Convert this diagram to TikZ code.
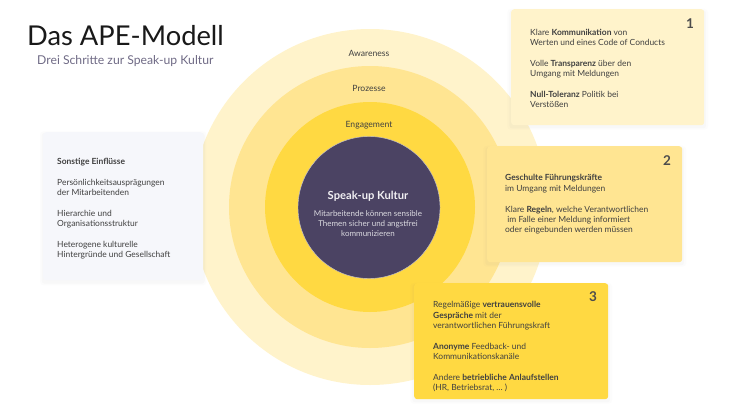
\documentclass[tikz,border=0pt]{standalone}
\usepackage{fontspec}
\setmainfont{Lato}
\usetikzlibrary{shadows}
\definecolor{ringa}{HTML}{FFF3CB}
\definecolor{ringb}{HTML}{FFE592}
\definecolor{ringc}{HTML}{FFD942}
\definecolor{kern}{HTML}{4B4363}
\definecolor{grau}{HTML}{F6F7FB}
\definecolor{schrift}{HTML}{404040}
\definecolor{untertitel}{HTML}{6F6A85}
\tikzset{
  ring/.style = {circle, inner sep=0pt, minimum size=#1},
  softshadow/.style = {
    drop shadow={shadow xshift=0pt, shadow yshift=-2pt, opacity=0.025, shadow scale=1.04},
    drop shadow={shadow xshift=0pt, shadow yshift=-2pt, opacity=0.035, shadow scale=1.02}},
  kasten/.style = {rounded corners=3pt, softshadow, inner sep=0pt, anchor=north west},
  liste/.style = {anchor=north west, inner sep=0pt, align=left, text=schrift,
    font=\fontsize{8.45}{10.35}\selectfont},
  ringtext/.style = {text=schrift, font=\fontsize{8.6}{10.35}\selectfont},
  nummer/.style = {text=black!70, font=\fontsize{13.5}{14}\selectfont\bfseries}
}
\begin{document}
\begin{tikzpicture}[x=1pt, y=-1pt]
\useasboundingbox (0,0) rectangle (738,415);
% Ringe
\node [ring=356pt, fill=ringa] (awareness) at (370,207) {};
\node [ring=282pt, fill=ringb] (prozesse) at (370,207) {};
\node [ring=210pt, fill=ringc] (engagement) at (370,207) {};
\node [ring=142pt, fill=kern, draw=white!70!kern, line width=0.4pt] (kultur) at (369,207.5) {};
\node [ringtext] (awarenesstext) at (369,53) {Awareness};
\node [ringtext] (prozessetext) at (369,88.5) {Prozesse};
\node [ringtext] (engagementtext) at (369,125) {Engagement};
\node [text=white!92!kern, font=\fontsize{11.2}{12}\selectfont\bfseries] (kulturtitel) at (368,196.5) {Speak-up Kultur};
\node [below=0pt, text=white!80!kern, align=center, inner sep=0pt, font=\fontsize{8}{10}\selectfont] (kulturtext) at (368,210) {Mitarbeitende können sensible\\Themen sicher und angstfrei\\kommunizieren};
% Titel
\node [anchor=west, inner sep=0pt, text=black!90, font=\fontsize{27.3}{30}\selectfont] (titel) at (27,36) {Das APE-Modell};
\node [anchor=west, inner sep=0pt, text=untertitel, font=\fontsize{12.2}{14}\selectfont] (untertitel) at (37,61) {Drei Schritte zur Speak-up Kultur};
% Kaesten
\node [kasten, fill=grau, minimum width=160pt, minimum height=148pt] (einfluss) at (43,132) {};
\node [kasten, fill=ringa, minimum width=193pt, minimum height=116pt] (schritta) at (511,9) {};
\node [kasten, fill=ringb, minimum width=195pt, minimum height=116pt] (schrittb) at (487,146) {};
\node [kasten, fill=ringc, minimum width=194pt, minimum height=116pt] (schrittc) at (414,283) {};
\node [liste] (einflusstext) at (57,158) {\textbf{Sonstige Einflüsse}\\[10.35pt]
  Persönlichkeitsausprägungen\\der Mitarbeitenden\\[10.35pt]
  Hierarchie und\\Organisationsstruktur\\[10.35pt]
  Heterogene kulturelle\\Hintergründe und Gesellschaft};
\node [liste] (schrittatext) at (530,29) {Klare \textbf{Kommunikation} von\\Werten und eines Code of Conducts\\[10.35pt]
  Volle \textbf{Transparenz} über den\\Umgang mit Meldungen\\[10.35pt]
  \textbf{Null-Toleranz} Politik bei\\Verstößen};
\node [liste] (schrittbtext) at (505,174.5) {\textbf{Geschulte Führungskräfte}\\im Umgang mit Meldungen\\[10.35pt]
  Klare \textbf{Regeln}, welche Verantwortlichen\\\ im Falle einer Meldung informiert\\oder eingebunden werden müssen};
\node [liste] (schrittctext) at (433,301.5) {Regelmäßige \textbf{vertrauensvolle}\\\textbf{Gespräche} mit der\\verantwortlichen Führungskraft\\[10.35pt]
  \textbf{Anonyme} Feedback- und\\Kommunikationskanäle\\[10.35pt]
  Andere \textbf{betriebliche Anlaufstellen}\\(HR, Betriebsrat, \dots\ )};
\node [nummer] (nummera) at (690,24) {1};
\node [nummer] (nummerb) at (667,161) {2};
\node [nummer] (nummerc) at (593,297) {3};
\end{tikzpicture}
\end{document}
